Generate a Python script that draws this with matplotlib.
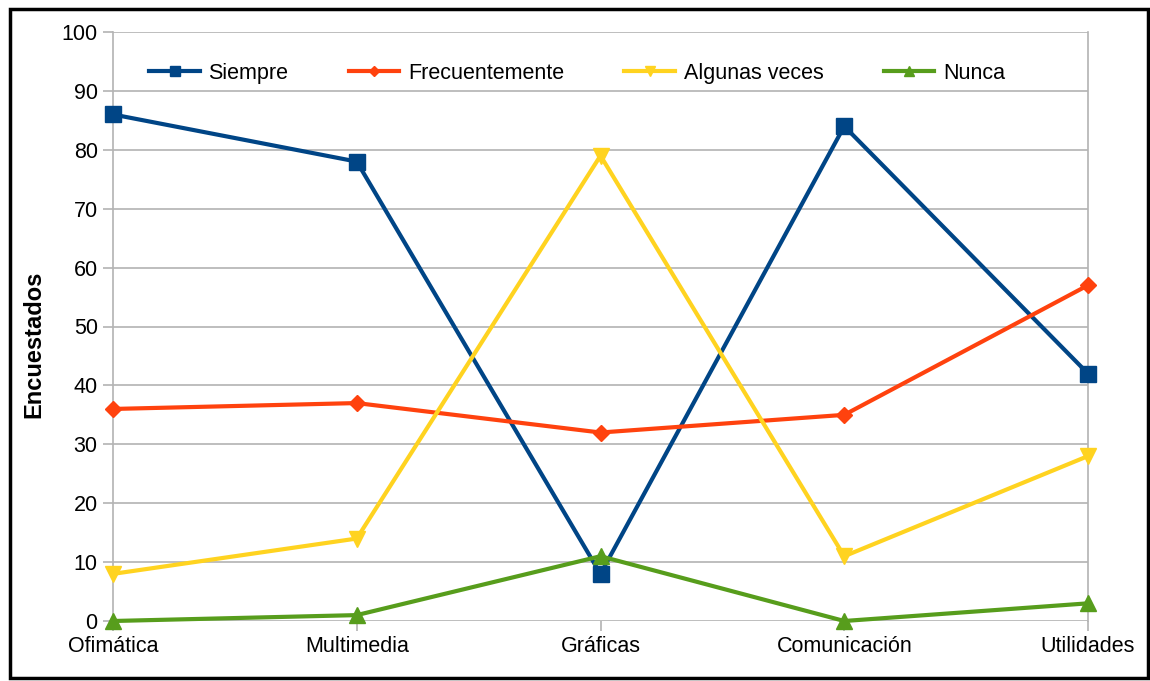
import matplotlib
matplotlib.use("Agg")
import matplotlib.pyplot as plt
from matplotlib.patches import Rectangle

categories = ["Ofimática", "Multimedia", "Gráficas", "Comunicación", "Utilidades"]
siempre = [86, 78, 8, 84, 42]
frecuentemente = [36, 37, 32, 35, 57]
algunas_veces = [8, 14, 79, 11, 28]
nunca = [0, 1, 11, 0, 3]
yticks = [0, 10, 20, 30, 40, 50, 60, 70, 80, 90, 100]

plt.rcParams['font.family'] = ['Liberation Sans', 'DejaVu Sans']

W, H = 1150, 681
fig = plt.figure(figsize=(W / 100, H / 100), dpi=100)
ax = fig.add_axes([113 / W, 1 - 621 / H, (1088 - 113) / W, (621 - 32) / H])

x = list(range(len(categories)))
series = [
    ("Siempre", siempre, "#004586", "s", 12),
    ("Frecuentemente", frecuentemente, "#ff420e", "D", 8),
    ("Algunas veces", algunas_veces, "#ffd320", "v", 12),
    ("Nunca", nunca, "#579d1c", "^", 12),
]
for i, (name, vals, col, mk, ms) in enumerate(series):
    ax.plot(x, vals, color=col, lw=3, marker=mk, markersize=ms,
            label=name, zorder=3 + i, clip_on=False)

ax.set_xlim(0, len(categories) - 1)
ax.set_ylim(0, 100)
ax.set_yticks(yticks)
ax.set_xticks(x)
ax.set_xticklabels(categories)
ax.grid(axis='y', color='#b3b3b3', lw=1.2)
ax.set_axisbelow(True)
for s in ['top', 'bottom']:
    ax.spines[s].set_visible(False)
for s in ['left', 'right']:
    ax.spines[s].set_color('#b3b3b3')
    ax.spines[s].set_linewidth(1.2)
ax.tick_params(axis='both', colors='#b3b3b3', labelcolor='black',
               labelsize=15.5, length=7, width=1.2, pad=4)

ax.set_ylabel("Encuestados", fontsize=17, fontweight='bold')
ax.yaxis.set_label_coords(-0.069, 0.469)

leg = ax.legend(loc='center', bbox_to_anchor=(0.476, 0.93), ncol=4,
                frameon=False, fontsize=15.5, handlelength=2.35,
                handletextpad=0.4, columnspacing=2.8, markerscale=0.6)

fig.add_artist(Rectangle((9.5 / W, 1 - 678 / H), (1148 - 9.5) / W, (678 - 8.5) / H,
                         transform=fig.transFigure, fill=False,
                         edgecolor='black', lw=2.5))

fig.savefig("out.png", dpi=100)
